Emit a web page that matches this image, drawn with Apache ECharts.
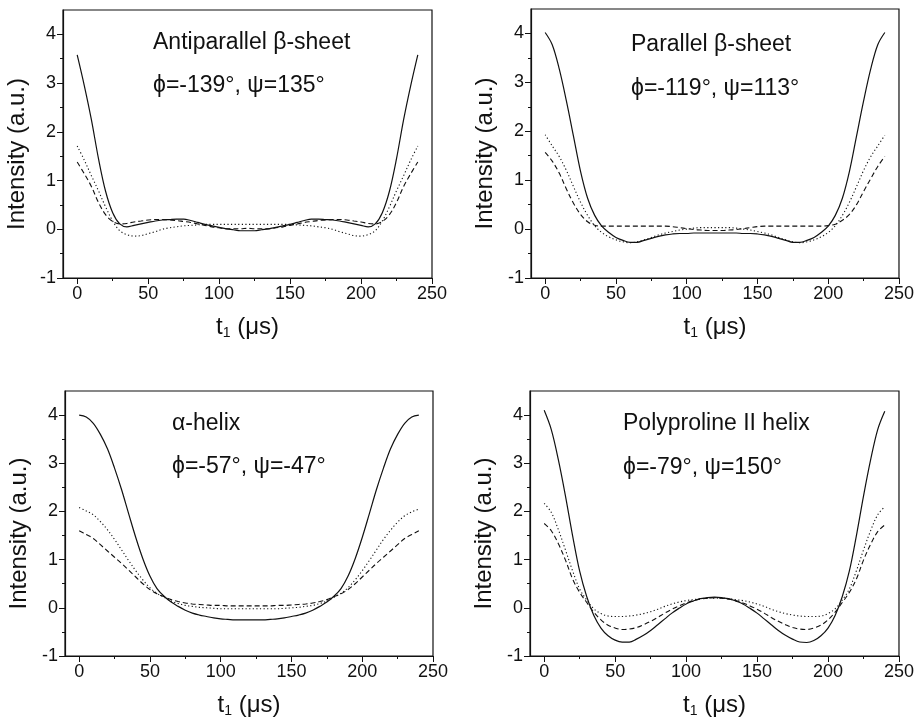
<!DOCTYPE html>
<html>
<head>
<meta charset="utf-8">
<script src="https://cdn.jsdelivr.net/npm/echarts@6/dist/echarts.min.js"></script>
<style>
html,body{margin:0;padding:0;background:#fff;}
#chart{width:917px;height:722px;}
</style>
</head>
<body>
<div id="chart"></div>
<script>
// time axis t1 (µs)
const T = [0,5,10,15,20,25,30,35,40,45,50,55,60,65,70,75,80,85,90,95,100,105,110,115,120,
           125,130,135,140,145,150,155,160,165,170,175,180,185,190,195,200,205,210,215,220,225,230,235,240];

const xTickLabels = [0,50,100,150,200,250];
const xMinorTicks = [25,75,125,175,225];
const yTickLabels = [-1,0,1,2,3,4];
const yMinorTicks = [-0.5,0.5,1.5,2.5,3.5];

const panelTitles = ['Antiparallel β-sheet','Parallel β-sheet','α-helix','Polyproline II helix'];
const panelAngles = ['ϕ=-139°, ψ=135°','ϕ=-119°, ψ=113°','ϕ=-57°, ψ=-47°','ϕ=-79°, ψ=150°'];

// Antiparallel beta-sheet
const antiSolid  = [3.58,2.95,2.25,1.45,0.78,0.34,0.11,0.05,0.08,0.11,0.14,0.17,0.19,0.20,0.21,0.21,0.18,0.14,0.10,0.07,0.04,0.01,-0.01,-0.03,-0.03,
                    -0.03,-0.01,0.01,0.04,0.07,0.10,0.14,0.18,0.21,0.21,0.20,0.19,0.17,0.14,0.11,0.08,0.05,0.11,0.34,0.78,1.45,2.25,2.95,3.58];
const antiDashed = [1.38,1.14,0.88,0.55,0.30,0.16,0.11,0.12,0.15,0.17,0.19,0.20,0.20,0.19,0.18,0.16,0.14,0.11,0.08,0.05,0.03,0.01,0.01,0.01,0.02,
                    0.01,0.01,0.01,0.03,0.05,0.08,0.11,0.14,0.16,0.18,0.19,0.20,0.20,0.19,0.17,0.15,0.12,0.11,0.16,0.30,0.55,0.88,1.14,1.38];
const antiDotted = [1.71,1.42,1.10,0.79,0.46,0.17,-0.03,-0.11,-0.14,-0.13,-0.09,-0.05,0.00,0.03,0.05,0.07,0.08,0.09,0.10,0.10,0.10,0.10,0.10,0.10,0.10,
                    0.10,0.10,0.10,0.10,0.10,0.10,0.09,0.08,0.07,0.05,0.03,0.00,-0.05,-0.09,-0.13,-0.14,-0.11,-0.03,0.17,0.46,0.79,1.10,1.42,1.71];

// Parallel beta-sheet
const parSolid  = [4.02,3.77,3.27,2.62,1.90,1.18,0.63,0.28,0.06,-0.07,-0.17,-0.23,-0.27,-0.27,-0.23,-0.19,-0.15,-0.12,-0.10,-0.09,-0.09,-0.08,-0.08,-0.08,-0.08,
                   -0.08,-0.08,-0.08,-0.09,-0.09,-0.10,-0.12,-0.15,-0.19,-0.23,-0.27,-0.27,-0.23,-0.17,-0.07,0.06,0.28,0.63,1.18,1.90,2.62,3.27,3.77,4.02];
const parDashed = [1.57,1.39,1.14,0.82,0.53,0.30,0.15,0.08,0.06,0.06,0.06,0.06,0.06,0.06,0.06,0.06,0.06,0.06,0.05,0.03,0.01,-0.01,-0.02,-0.03,-0.03,
                   -0.03,-0.02,-0.01,0.01,0.03,0.05,0.06,0.06,0.06,0.06,0.06,0.06,0.06,0.06,0.06,0.07,0.10,0.18,0.30,0.50,0.77,1.03,1.28,1.49];
const parDotted = [1.93,1.70,1.48,1.20,0.87,0.55,0.28,0.07,-0.07,-0.16,-0.22,-0.26,-0.28,-0.26,-0.22,-0.17,-0.12,-0.08,-0.05,-0.02,0.00,0.02,0.03,0.03,0.03,
                   0.03,0.03,0.02,0.00,-0.02,-0.05,-0.08,-0.12,-0.17,-0.22,-0.26,-0.28,-0.26,-0.22,-0.16,-0.07,0.07,0.28,0.55,0.87,1.20,1.48,1.70,1.92];

// alpha-helix
const helixSolid  = [4.00,3.96,3.83,3.60,3.30,2.90,2.45,1.95,1.46,1.02,0.66,0.40,0.24,0.12,0.03,-0.05,-0.11,-0.15,-0.18,-0.21,-0.23,-0.24,-0.25,-0.25,-0.25,
                     -0.25,-0.25,-0.24,-0.23,-0.21,-0.18,-0.15,-0.11,-0.05,0.03,0.12,0.24,0.40,0.66,1.02,1.46,1.95,2.45,2.90,3.30,3.60,3.83,3.96,4.00];
const helixDashed = [1.60,1.52,1.44,1.31,1.18,1.05,0.92,0.78,0.64,0.50,0.38,0.29,0.23,0.17,0.13,0.10,0.08,0.07,0.06,0.05,0.05,0.04,0.04,0.04,0.04,
                     0.04,0.04,0.04,0.05,0.05,0.06,0.07,0.08,0.10,0.13,0.17,0.23,0.29,0.38,0.50,0.64,0.78,0.92,1.05,1.18,1.31,1.44,1.52,1.60];
const helixDotted = [2.08,2.01,1.93,1.79,1.62,1.42,1.20,0.98,0.77,0.58,0.42,0.30,0.22,0.14,0.09,0.05,0.03,0.01,0.00,-0.01,-0.02,-0.02,-0.02,-0.02,-0.02,
                     -0.02,-0.02,-0.02,-0.02,-0.01,0.00,0.01,0.03,0.05,0.09,0.14,0.22,0.30,0.42,0.58,0.77,0.98,1.20,1.42,1.61,1.78,1.91,1.99,2.05];

// Polyproline II helix
const ppSolid  = [4.10,3.70,3.07,2.32,1.50,0.76,0.23,-0.16,-0.42,-0.58,-0.67,-0.71,-0.71,-0.65,-0.57,-0.47,-0.35,-0.23,-0.11,-0.01,0.08,0.14,0.19,0.21,0.22,
                  0.21,0.19,0.14,0.08,-0.01,-0.11,-0.23,-0.35,-0.47,-0.57,-0.65,-0.71,-0.72,-0.68,-0.58,-0.42,-0.16,0.23,0.76,1.50,2.32,3.07,3.70,4.08];
const ppDashed = [1.75,1.60,1.33,0.99,0.60,0.32,0.11,-0.09,-0.25,-0.36,-0.42,-0.45,-0.44,-0.41,-0.35,-0.28,-0.20,-0.11,-0.03,0.04,0.10,0.15,0.18,0.20,0.21,
                  0.20,0.18,0.15,0.10,0.04,-0.03,-0.11,-0.20,-0.28,-0.35,-0.41,-0.44,-0.45,-0.42,-0.36,-0.25,-0.09,0.11,0.32,0.60,0.99,1.32,1.58,1.72];
const ppDotted = [2.17,1.98,1.62,1.20,0.77,0.39,0.16,-0.02,-0.12,-0.17,-0.18,-0.18,-0.17,-0.15,-0.12,-0.08,-0.03,0.03,0.08,0.12,0.15,0.17,0.19,0.20,0.20,
                  0.20,0.19,0.17,0.15,0.12,0.08,0.03,-0.03,-0.08,-0.12,-0.15,-0.17,-0.18,-0.18,-0.17,-0.12,-0.02,0.16,0.39,0.77,1.20,1.60,1.93,2.10];

const panelData = [
  [antiSolid, antiDashed, antiDotted],
  [parSolid, parDashed, parDotted],
  [helixSolid, helixDashed, helixDotted],
  [ppSolid, ppDashed, ppDotted]
];

// layout (pixels)
const grids = [
  {left: 63,  top: 10,  width: 369, height: 268},
  {left: 531, top: 9,   width: 370, height: 269},
  {left: 65,  top: 391, width: 368, height: 265},
  {left: 530, top: 391, width: 370, height: 265}
];
const textPos = [
  [153, 43, 86],
  [631, 45, 89],
  [172, 424, 467],
  [623, 424, 468]
];

const FONT = '"Liberation Sans", Arial, Helvetica, sans-serif';
const INK = '#111';

function pairs(ys) { return T.map((x, i) => [x, ys[i]]); }

const option = {
  animation: false,
  backgroundColor: '#fff',
  grid: grids.map(g => Object.assign({show: true, borderColor: INK, borderWidth: 1.2, backgroundColor: 'transparent', containLabel: false}, g)),
  xAxis: [],
  yAxis: [],
  series: [],
  graphic: []
};

for (let i = 0; i < 4; i++) {
  option.xAxis.push({
    gridIndex: i, type: 'value', min: -10, max: 250, position: 'bottom',
    axisLine: {show: true, onZero: false, lineStyle: {color: INK, width: 1.2}},
    axisTick: {show: true, inside: false, length: 6, customValues: xTickLabels, lineStyle: {color: INK, width: 1}},
    axisLabel: {show: true, customValues: xTickLabels, fontSize: 18, color: INK, margin: 7, fontFamily: FONT},
    splitLine: {show: false},
    name: '{a|t}{s|1}{a| (μs)}',
    nameLocation: 'middle', nameGap: 36,
    nameTextStyle: {
      color: INK, fontFamily: FONT, fontSize: 24,
      rich: {
        a: {fontSize: 24, fontFamily: FONT, color: INK},
        s: {fontSize: 14, fontFamily: FONT, color: INK, padding: [12, 0, 0, 0]}
      }
    }
  });
  option.xAxis.push({
    gridIndex: i, type: 'value', min: -10, max: 250, position: 'bottom',
    axisLine: {show: false, onZero: false},
    axisTick: {show: true, inside: false, length: 3, customValues: xMinorTicks, lineStyle: {color: INK, width: 1}},
    axisLabel: {show: false},
    splitLine: {show: false}
  });
  option.yAxis.push({
    gridIndex: i, type: 'value', min: -1, max: 4.5, position: 'left',
    axisLine: {show: true, onZero: false, lineStyle: {color: INK, width: 1.2}},
    axisTick: {show: true, inside: false, length: 6, customValues: yTickLabels, lineStyle: {color: INK, width: 1}},
    axisLabel: {show: true, customValues: yTickLabels, fontSize: 18, color: INK, margin: 7, fontFamily: FONT},
    splitLine: {show: false},
    name: 'Intensity (a.u.)',
    nameLocation: 'middle', nameGap: 34,
    nameTextStyle: {color: INK, fontFamily: FONT, fontSize: 24, padding: [0, 20, 0, 0]}
  });
  option.yAxis.push({
    gridIndex: i, type: 'value', min: -1, max: 4.5, position: 'left',
    axisLine: {show: false, onZero: false},
    axisTick: {show: true, inside: false, length: 3, customValues: yMinorTicks, lineStyle: {color: INK, width: 1}},
    axisLabel: {show: false},
    splitLine: {show: false}
  });

  const styles = [
    {type: 'solid', width: 1.2},
    {type: [5, 3], width: 1.1},
    {type: [1.2, 2.4], width: 1.1}
  ];
  const names = ['solid', 'dashed', 'dotted'];
  for (let k = 2; k >= 0; k--) {
    option.series.push({
      name: names[k] + i,
      type: 'line',
      xAxisIndex: 2 * i, yAxisIndex: 2 * i,
      data: pairs(panelData[i][k]),
      showSymbol: false, symbol: 'none',
      smooth: 0.35,
      lineStyle: Object.assign({color: INK}, styles[k]),
      silent: true
    });
  }

  const [tx, ty1, ty2] = textPos[i];
  option.graphic.push({
    type: 'text', x: tx, y: ty1, silent: true,
    style: {text: panelTitles[i], fill: INK, font: '23px ' + FONT, verticalAlign: 'middle', align: 'left'}
  });
  option.graphic.push({
    type: 'text', x: tx, y: ty2, silent: true,
    style: {text: panelAngles[i], fill: INK, font: '23px ' + FONT, verticalAlign: 'middle', align: 'left'}
  });
}

const chart = echarts.init(document.getElementById('chart'), null, {renderer: 'canvas'});
chart.setOption(option);
</script>
</body>
</html>
